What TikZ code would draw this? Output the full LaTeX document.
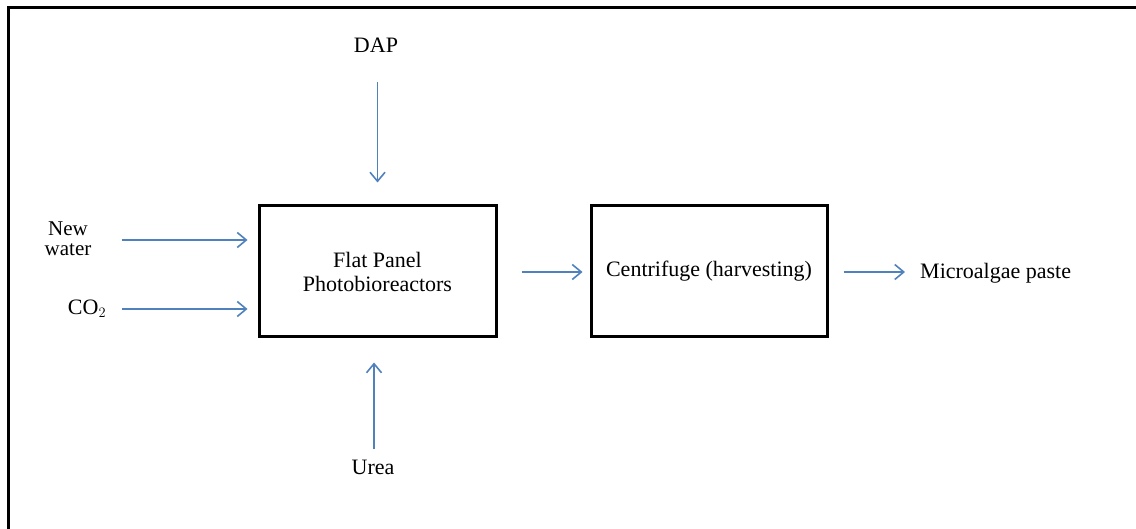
\documentclass[tikz,border=0pt]{standalone}
\usepackage{fontspec}
\setmainfont{Liberation Serif}
\usetikzlibrary{arrows.meta}
\definecolor{arrowblue}{RGB}{79,129,189}
\begin{document}
\begin{tikzpicture}[x=1pt,y=-1pt,
  every node/.style={font=\fontsize{22}{24}\selectfont, inner sep=0pt},
  procbox/.style={draw=black, line width=3pt, minimum height=131pt, align=center},
  flow/.style={draw=arrowblue, line width=1.7pt, -{Straight Barb[length=9pt,width=15pt,line width=1.6pt]}}]
\useasboundingbox (0,0) rectangle (1136,529);
\draw[line width=3pt] (8,8) rectangle (1150,545);
\node[procbox, minimum width=237pt] (pbr) at (377.5,271.5) {Flat Panel\\Photobioreactors};
\node[procbox, minimum width=236pt] (cen) at (709,271.5) {Centrifuge (harvesting)};
\node (dap) at (376,45) {DAP};
\node[align=center, font=\fontsize{21}{20}\selectfont] (water) at (68,239) {New\\water};
\node (co2) at (87,309) {CO$_2$};
\node (urea) at (373,467) {Urea};
\node[anchor=west] (paste) at (920,273) {Microalgae paste};
\draw[flow, shorten <=30pt, shorten >=22pt] (dap.south -| pbr.north) -- (pbr.north);
\draw[flow, shorten <=30pt, shorten >=10pt] (water.east |- 0,240) -- (pbr.west |- 0,240);
\draw[flow, shorten <=16pt, shorten >=10pt] (co2.east |- 0,309) -- (pbr.west |- 0,309);
\draw[flow, shorten <=10pt, shorten >=24pt] (urea.north -| 374,0) -- (pbr.south -| 374,0);
\draw[flow, shorten <=24pt, shorten >=7pt] (pbr.east |- 0,272) -- (cen.west |- 0,272);
\draw[flow, shorten <=15pt, shorten >=15pt] (cen.east |- 0,272) -- (paste.west |- 0,272);
\end{tikzpicture}
\end{document}
